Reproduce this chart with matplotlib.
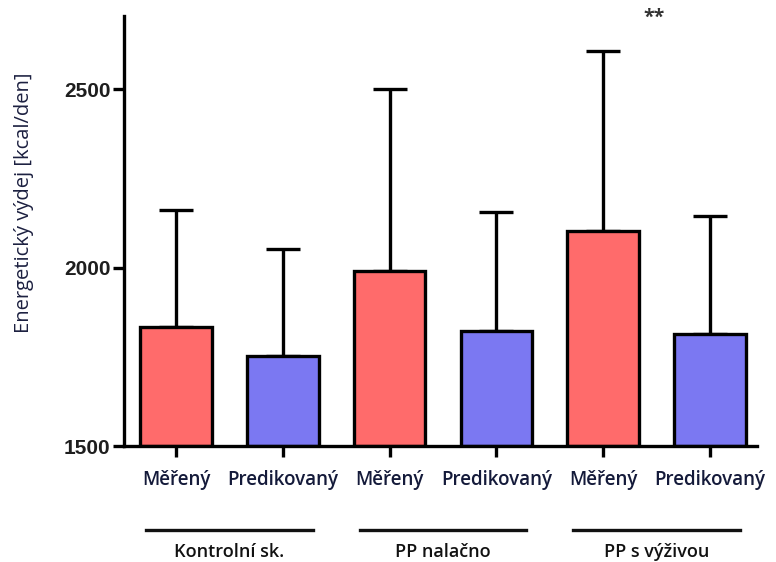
import matplotlib
matplotlib.use("Agg")
import matplotlib.pyplot as plt
import matplotlib.transforms as mtransforms
import matplotlib.lines as mlines
import numpy as np

categories = ["Měřený", "Predikovaný", "Měřený", "Predikovaný", "Měřený", "Predikovaný"]
groups = ["Kontrolní sk.", "PP nalačno", "PP s výživou"]
means = [1833, 1752, 1990, 1822, 2102, 1815]
upper_err = [327, 300, 510, 333, 504, 330]
yticks = [1500, 2000, 2500]
bar_colors = ["#FF6B6B", "#7B78F2", "#FF6B6B", "#7B78F2", "#FF6B6B", "#7B78F2"]
signif_text = "**"

plt.rcParams['font.family'] = ['Open Sans', 'DejaVu Sans']

fig = plt.figure(figsize=(7.76, 5.62), dpi=100)
ax = fig.add_axes([0.160, 0.2064, 0.8155, 0.7651])

x = np.arange(len(means))
lw = 2.4
ax.bar(x, np.array(means) - 1500, bottom=1500, width=0.67, color=bar_colors,
       edgecolor="black", linewidth=lw, zorder=2)
ax.errorbar(x, means, yerr=[np.zeros(len(means)), upper_err], fmt="none",
            ecolor="black", elinewidth=lw, capsize=12, capthick=lw, zorder=1)

ax.set_xlim(-0.486, 5.44)
ax.set_ylim(1500, 2705)
ax.set_yticks(yticks)
ax.set_yticklabels([str(t) for t in yticks], fontweight="bold", fontsize=15,
                   color="#1e1e1e", family=['Liberation Sans', 'DejaVu Sans'])
ax.set_xticks(x)
ax.set_xticklabels(categories, fontsize=13.5, color="#141a3a", fontweight="semibold")

for s in ["top", "right"]:
    ax.spines[s].set_visible(False)
for s in ["left", "bottom"]:
    ax.spines[s].set_linewidth(lw)
ax.tick_params(axis="both", width=lw, length=8, direction="out")
ax.tick_params(axis="x", pad=9)
ax.tick_params(axis="y", pad=2)

ax.set_ylabel("Energetický výdej [kcal/den]", fontsize=14.5, color="#1c2040",
              fontweight="medium")
ax.yaxis.set_label_coords(-0.142, 0.565)

ax.text(4.48, 2699, signif_text, ha="center", va="center", fontsize=14,
        fontweight="bold", color="#333333")

trans = mtransforms.blended_transform_factory(ax.transData, fig.transFigure)
fig_y_line = 1 - 530 / 562
fig_y_text = 1 - 552 / 562
for gi, g in enumerate(groups):
    cx = 2 * gi + 0.5
    ax.add_line(mlines.Line2D([cx - 0.78, cx + 0.78], [fig_y_line, fig_y_line],
                              transform=trans, color="#111111", lw=2.4,
                              clip_on=False))
    ax.text(cx, fig_y_text, g, transform=trans, ha="center", va="center",
            fontsize=13, fontweight="semibold", color="#111111", clip_on=False)

fig.savefig("out.png", dpi=100)
